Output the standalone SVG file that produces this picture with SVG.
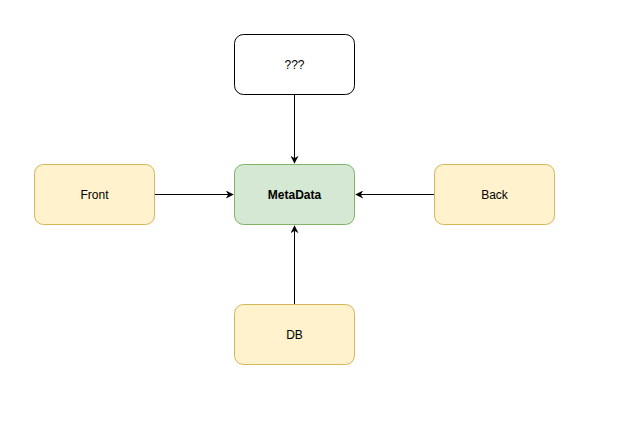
<svg xmlns="http://www.w3.org/2000/svg" width="622" height="432" viewBox="0 0 622 432">
<style>
.box{stroke-width:1}
.y{fill:#fff2cc;stroke:#d6b656}
.g{fill:#d5e8d4;stroke:#82b366}
.w{fill:#ffffff;stroke:#000000}
.t{font-family:"Liberation Sans",Arial,sans-serif;font-size:12px;fill:#000;text-anchor:middle;dominant-baseline:central}
.edge{stroke:#000;stroke-width:1;fill:none;marker-end:url(#arr)}
</style>
<defs>
<marker id="arr" viewBox="0 0 10 10" refX="9" refY="5" markerWidth="8" markerHeight="8" markerUnits="userSpaceOnUse" orient="auto">
<path d="M0,0 L10,5 L0,10 L3,5 Z" fill="#000"/>
</marker>
</defs>
<rect width="622" height="432" fill="#ffffff"/>
<g id="connectors">
<path class="edge" d="M294.5,94.5 L294.5,163"/>
<path class="edge" d="M154.5,194.5 L233,194.5"/>
<path class="edge" d="M434.5,194.5 L356,194.5"/>
<path class="edge" d="M294.5,304.5 L294.5,226"/>
</g>
<g id="unknown">
<rect class="box w" x="234.5" y="34.5" width="120" height="60" rx="9"/>
<text class="t" x="294.5" y="64.5">???</text>
</g>
<g id="metadata">
<rect class="box g" x="234.5" y="164.5" width="120" height="60" rx="9"/>
<text class="t" x="294.5" y="194.5" font-weight="bold">MetaData</text>
</g>
<g id="front">
<rect class="box y" x="34.5" y="164.5" width="120" height="60" rx="9"/>
<text class="t" x="94.5" y="194.5">Front</text>
</g>
<g id="back">
<rect class="box y" x="434.5" y="164.5" width="120" height="60" rx="9"/>
<text class="t" x="494.5" y="194.5">Back</text>
</g>
<g id="db">
<rect class="box y" x="234.5" y="304.5" width="120" height="60" rx="9"/>
<text class="t" x="294.5" y="334.5">DB</text>
</g>
</svg>
